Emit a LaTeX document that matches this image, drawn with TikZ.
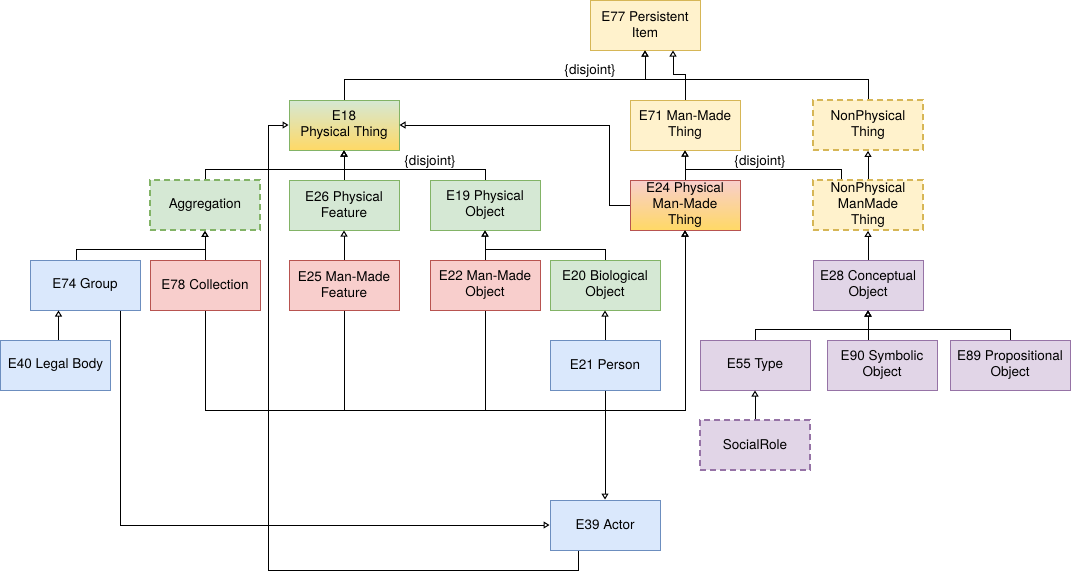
\documentclass[tikz,border=0pt]{standalone}
\usepackage{fontspec}
\setmainfont{TeX Gyre Heros}
\usepackage{xcolor}
\usepackage{tikz}
\usetikzlibrary{arrows.meta}
\definecolor{yfill}{HTML}{FFF2CC}\definecolor{ydraw}{HTML}{D6B656}
\definecolor{gfill}{HTML}{D5E8D4}\definecolor{gdraw}{HTML}{82B366}
\definecolor{bfill}{HTML}{DAE8FC}\definecolor{bdraw}{HTML}{6C8EBF}
\definecolor{rfill}{HTML}{F8CECC}\definecolor{rdraw}{HTML}{B85450}
\definecolor{pfill}{HTML}{E1D5E7}\definecolor{pdraw}{HTML}{9673A6}
\definecolor{gold}{HTML}{FFD966}
\tikzstyle{box}=[draw, rectangle, line width=1pt, inner sep=0mm, minimum width=110pt, minimum height=50pt, align=center, font=\fontsize{13.5}{16}\selectfont]
\tikzstyle{ybox}=[box, draw=ydraw, fill=yfill]
\tikzstyle{gbox}=[box, draw=gdraw, fill=gfill]
\tikzstyle{bbox}=[box, draw=bdraw, fill=bfill]
\tikzstyle{rbox}=[box, draw=rdraw, fill=rfill]
\tikzstyle{pbox}=[box, draw=pdraw, fill=pfill]
\tikzstyle{virt}=[line width=1.8pt, dash pattern=on 6pt off 4pt]
\tikzstyle{isa}=[draw, line width=1pt, -{Triangle[open, length=6pt, width=7pt]}]
\tikzstyle{l}=[draw=none, inner sep=.4mm, font=\fontsize{13.5}{16}\selectfont]

\begin{document}
\begin{tikzpicture}[x=1pt, y=-1pt]
\useasboundingbox (0,0) rectangle (1071,579);
% classes
\foreach \n/\x/\y/\txt in {e77/645/25/{E77 Persistent\\Item}, e71/685/125/{E71 Man-Made\\Thing}}
  \node[ybox] (\n) at (\x, \y) {\txt};
\node[ybox, virt] (npt) at (868,125) {NonPhysical\\Thing};
\node[ybox, virt] (npmm) at (868,205) {NonPhysical\\ManMade\\Thing};
\node[box, draw=gdraw, top color=gfill, bottom color=gold] (e18) at (344,125) {E18\\Physical Thing};
\node[box, draw=rdraw, top color=rfill, bottom color=gold] (e24) at (685,205) {E24 Physical\\Man-Made\\Thing};
\node[gbox, virt] (aggr) at (205,205) {Aggregation};
\foreach \n/\x/\y/\txt in {e26/344/205/{E26 Physical\\Feature}, e19/485/205/{E19 Physical\\Object}, e20/605/285/{E20 Biological\\Object}}
  \node[gbox] (\n) at (\x, \y) {\txt};
\foreach \n/\x/\y/\txt in {e78/205/285/{E78 Collection}, e25/344/285/{E25 Man-Made\\Feature}, e22/485/285/{E22 Man-Made\\Object}}
  \node[rbox] (\n) at (\x, \y) {\txt};
\foreach \n/\x/\y/\txt in {e74/85/285/{E74 Group}, e40/55.5/365/{E40 Legal Body}, e21/605/365/{E21 Person}, e39/605/525/{E39 Actor}}
  \node[bbox] (\n) at (\x, \y) {\txt};
\foreach \n/\x/\y/\txt in {e28/868/285/{E28 Conceptual\\Object}, e55/755/365/{E55 Type}, e90/882/365/{E90 Symbolic\\Object}}
  \node[pbox] (\n) at (\x, \y) {\txt};
\node[pbox, minimum width=120pt] (e89) at (1010,365) {E89 Propositional\\Object};
\node[pbox, virt] (social) at (755,445) {SocialRole};
% disjoint labels
\node[l] (dj1) at (590,71) {\{disjoint\}};
\node[l] (dj2) at (430,162) {\{disjoint\}};
\node[l] (dj3) at (760,162) {\{disjoint\}};
% is-a links
\draw[isa] (e18.north) -- ++(0,-20) -| (e77.south);
\draw[isa] (npt.north) -- ++(0,-20) -| (e77.south);
\draw[isa] (e71.north) -- ++(0,-25) -| ([xshift=28pt]e77.south);
\draw[isa] (e26.north) -- (e18.south);
\draw[isa] (aggr.north) -- ++(0,-10) -| (e18.south);
\draw[isa] (e19.north) -- ++(0,-10) -| (e18.south);
\draw[isa] (e24.west) -- ++(-20,0) |- (e18.east);
\draw[isa] (e24.north) -- (e71.south);
\draw[isa] ([xshift=-27pt]npmm.north) -- ++(0,-10) -| (e71.south);
\draw[isa] (npmm.north) -- (npt.south);
\draw[isa] ([xshift=-9pt]e74.north) -- ++(0,-10) -| (aggr.south);
\draw[isa] (e78.north) -- (aggr.south);
\draw[isa] ([xshift=3pt]e40.north) -- ([xshift=3pt]e40.north |- e74.south);
\draw[isa] (e25.north) -- (e26.south);
\draw[isa] (e22.north) -- (e19.south);
\draw[isa] (e20.north) -- ++(0,-10) -| (e19.south);
\draw[isa] (e21.north) -- (e20.south);
\draw[isa] (e28.north) -- (npmm.south);
\draw[isa] (e55.north) -- ++(0,-10) -| (e28.south);
\draw[isa] (e28.south |- e90.north) -- (e28.south);
\draw[isa] (e89.north) -- ++(0,-10) -| (e28.south);
\draw[isa] (social.north) -- (e55.south);
\foreach \n in {e78, e25, e22}
  \draw[isa] (\n.south) -- ++(0,100) -| (e24.south);
\draw[isa] ([xshift=35pt]e74.south) |- (e39.west);
\draw[isa] (e21.south) -- (e39.north);
\draw[isa] ([xshift=-27pt]e39.south) -- ++(0,20) -| ([xshift=-20pt]e18.west) -- (e18.west);
\end{tikzpicture}
\end{document}
